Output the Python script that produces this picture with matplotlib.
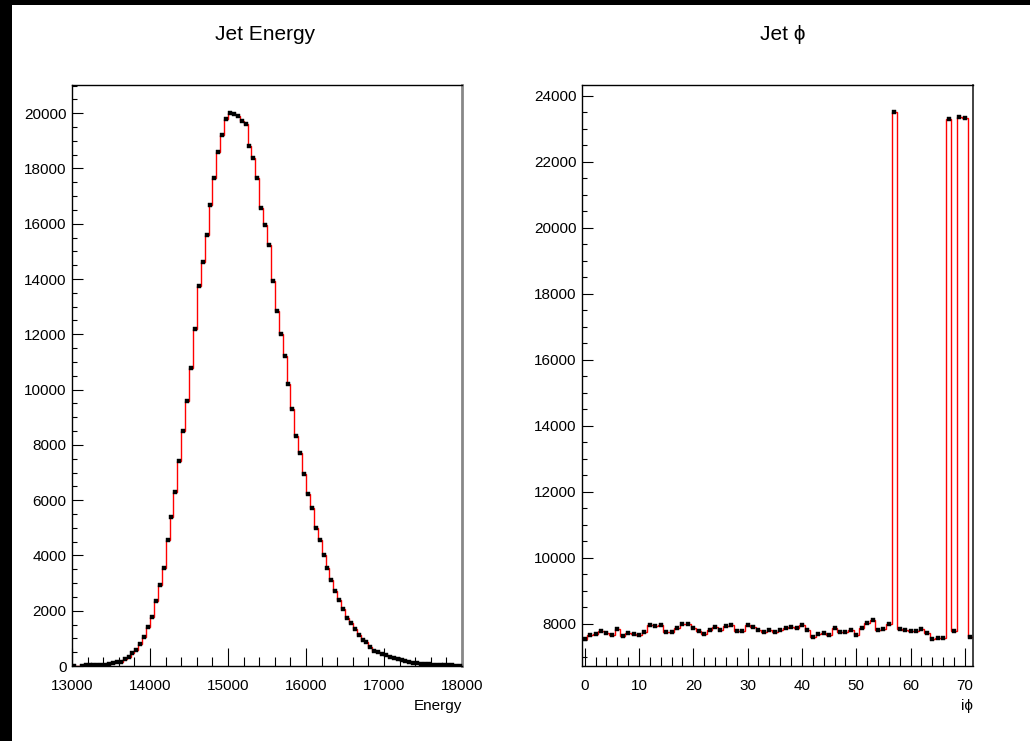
import numpy as np
import matplotlib
matplotlib.use("Agg")
import matplotlib.pyplot as plt
from matplotlib.patches import Rectangle
from matplotlib.ticker import MultipleLocator

plt.rcParams['font.family'] = ['Liberation Sans', 'DejaVu Sans']

# ---------------- data ----------------
energy_lo, energy_hi, energy_nbins = 13000, 18000, 100
energy_counts = [
    5, 0, 12, 25, 30, 30, 35, 40, 45, 60,
    108, 145, 150, 253, 336, 456, 590, 807, 1049, 1410,
    1772, 2350, 2940, 3560, 4560, 5400, 6304, 7425, 8485, 9595,
    10767, 12177, 13754, 14623, 15600, 16661, 17638, 18614, 19229, 19795,
    20025, 19953, 19881, 19700, 19627, 18796, 18385, 17638, 16553, 15961,
    15237, 13913, 12850, 12018, 11201, 10199, 9306, 8329, 7714, 6944,
    6231, 5725, 4991, 4557, 4014, 3555, 3110, 2712, 2387, 2050,
    1736, 1566, 1338, 1121, 951, 857, 698, 553, 495, 445,
    387, 325, 300, 264, 217, 170, 145, 119, 108, 83,
    70, 60, 50, 40, 35, 30, 25, 20, 15, 12,
]

phi_lo, phi_hi, phi_nbins = -0.5, 71.5, 72
phi_counts = [
    7536, 7667, 7697, 7788, 7737, 7667, 7848, 7636, 7737, 7697,
    7657, 7747, 7980, 7939, 7980, 7747, 7747, 7869, 8010, 8010,
    7869, 7798, 7687, 7818, 7909, 7808, 7949, 7980, 7788, 7788,
    7980, 7909, 7818, 7747, 7818, 7747, 7818, 7869, 7909, 7869,
    7980, 7808, 7596, 7697, 7717, 7657, 7889, 7747, 7747, 7818,
    7657, 7869, 8040, 8121, 7808, 7838, 8000, 23506, 7848, 7818,
    7788, 7788, 7859, 7737, 7536, 7566, 7566, 23294, 7788, 23354,
    23324, 7596,
]

titles = ["Jet Energy", "Jet \u03d5"]
xlabels = ["Energy", "i\u03d5"]

# ---------------- figure ----------------
W, H = 1030, 741
fig = plt.figure(figsize=(W / 100, H / 100), dpi=100)
fig.patch.set_facecolor("white")

def fx(px):
    return px / W

def fy(py):
    return 1 - py / H

ax1 = fig.add_axes([fx(72), fy(666), fx(462) - fx(72), fy(85) - fy(666)])
ax2 = fig.add_axes([fx(582), fy(666), fx(973) - fx(582), fy(85) - fy(666)])

def draw_hist(ax, lo, hi, n, counts):
    edges = np.linspace(lo, hi, n + 1)
    centers = 0.5 * (edges[:-1] + edges[1:])
    counts = np.asarray(counts, dtype=float)
    ax.stairs(counts, edges, baseline=None, color="#ff0000", lw=1.0, zorder=2)
    m = counts > 0
    ax.plot(centers[m], counts[m], ls="none", marker="s", ms=2.8,
            mfc="black", mec="black", mew=0.3, zorder=3)

draw_hist(ax1, energy_lo, energy_hi, energy_nbins, energy_counts)
draw_hist(ax2, phi_lo, phi_hi, phi_nbins, phi_counts)

ax1.set_xlim(energy_lo, energy_hi)
ax1.set_ylim(0, 21020)
ax2.set_xlim(phi_lo, phi_hi)
ax2.set_ylim(6727, 24333)

ax1.xaxis.set_major_locator(MultipleLocator(1000))
ax1.xaxis.set_minor_locator(MultipleLocator(200))
ax1.yaxis.set_major_locator(MultipleLocator(2000))
ax1.yaxis.set_minor_locator(MultipleLocator(500))
ax2.xaxis.set_major_locator(MultipleLocator(10))
ax2.xaxis.set_minor_locator(MultipleLocator(2))
ax2.yaxis.set_major_locator(MultipleLocator(2000))
ax2.yaxis.set_minor_locator(MultipleLocator(500))

for ax in (ax1, ax2):
    ax.tick_params(axis="both", which="both", direction="in", top=False,
                   right=False, width=0.8, colors="black", labelsize=11)
    ax.tick_params(axis="y", which="major", length=7.7, pad=4)
    ax.tick_params(axis="y", which="minor", length=3.8)
    ax.tick_params(axis="x", which="major", length=13.2, pad=9)
    ax.tick_params(axis="x", which="minor", length=6.5)
    for s in ("left", "bottom", "top"):
        ax.spines[s].set_color("black")
        ax.spines[s].set_linewidth(1.0)

ax1.spines["right"].set_color("#888888")
ax1.spines["right"].set_linewidth(2.0)
ax2.spines["right"].set_color("#222222")
ax2.spines["right"].set_linewidth(1.2)

# titles and axis labels
fig.text(fx(265), fy(35), titles[0], ha="center", va="center", fontsize=15)
fig.text(fx(783), fy(35), titles[1], ha="center", va="center", fontsize=15)
fig.text(fx(462), fy(706), xlabels[0], ha="right", va="center", fontsize=11)
fig.text(fx(973), fy(706), xlabels[1], ha="right", va="center", fontsize=11)

# black canvas border strips
fig.patches.append(Rectangle((0, fy(5)), 1, 5 / H, transform=fig.transFigure,
                             facecolor="black", edgecolor="none", zorder=10))
fig.patches.append(Rectangle((0, 0), 12 / W, 1, transform=fig.transFigure,
                             facecolor="black", edgecolor="none", zorder=10))

fig.savefig("out.png", dpi=100, facecolor="white")
